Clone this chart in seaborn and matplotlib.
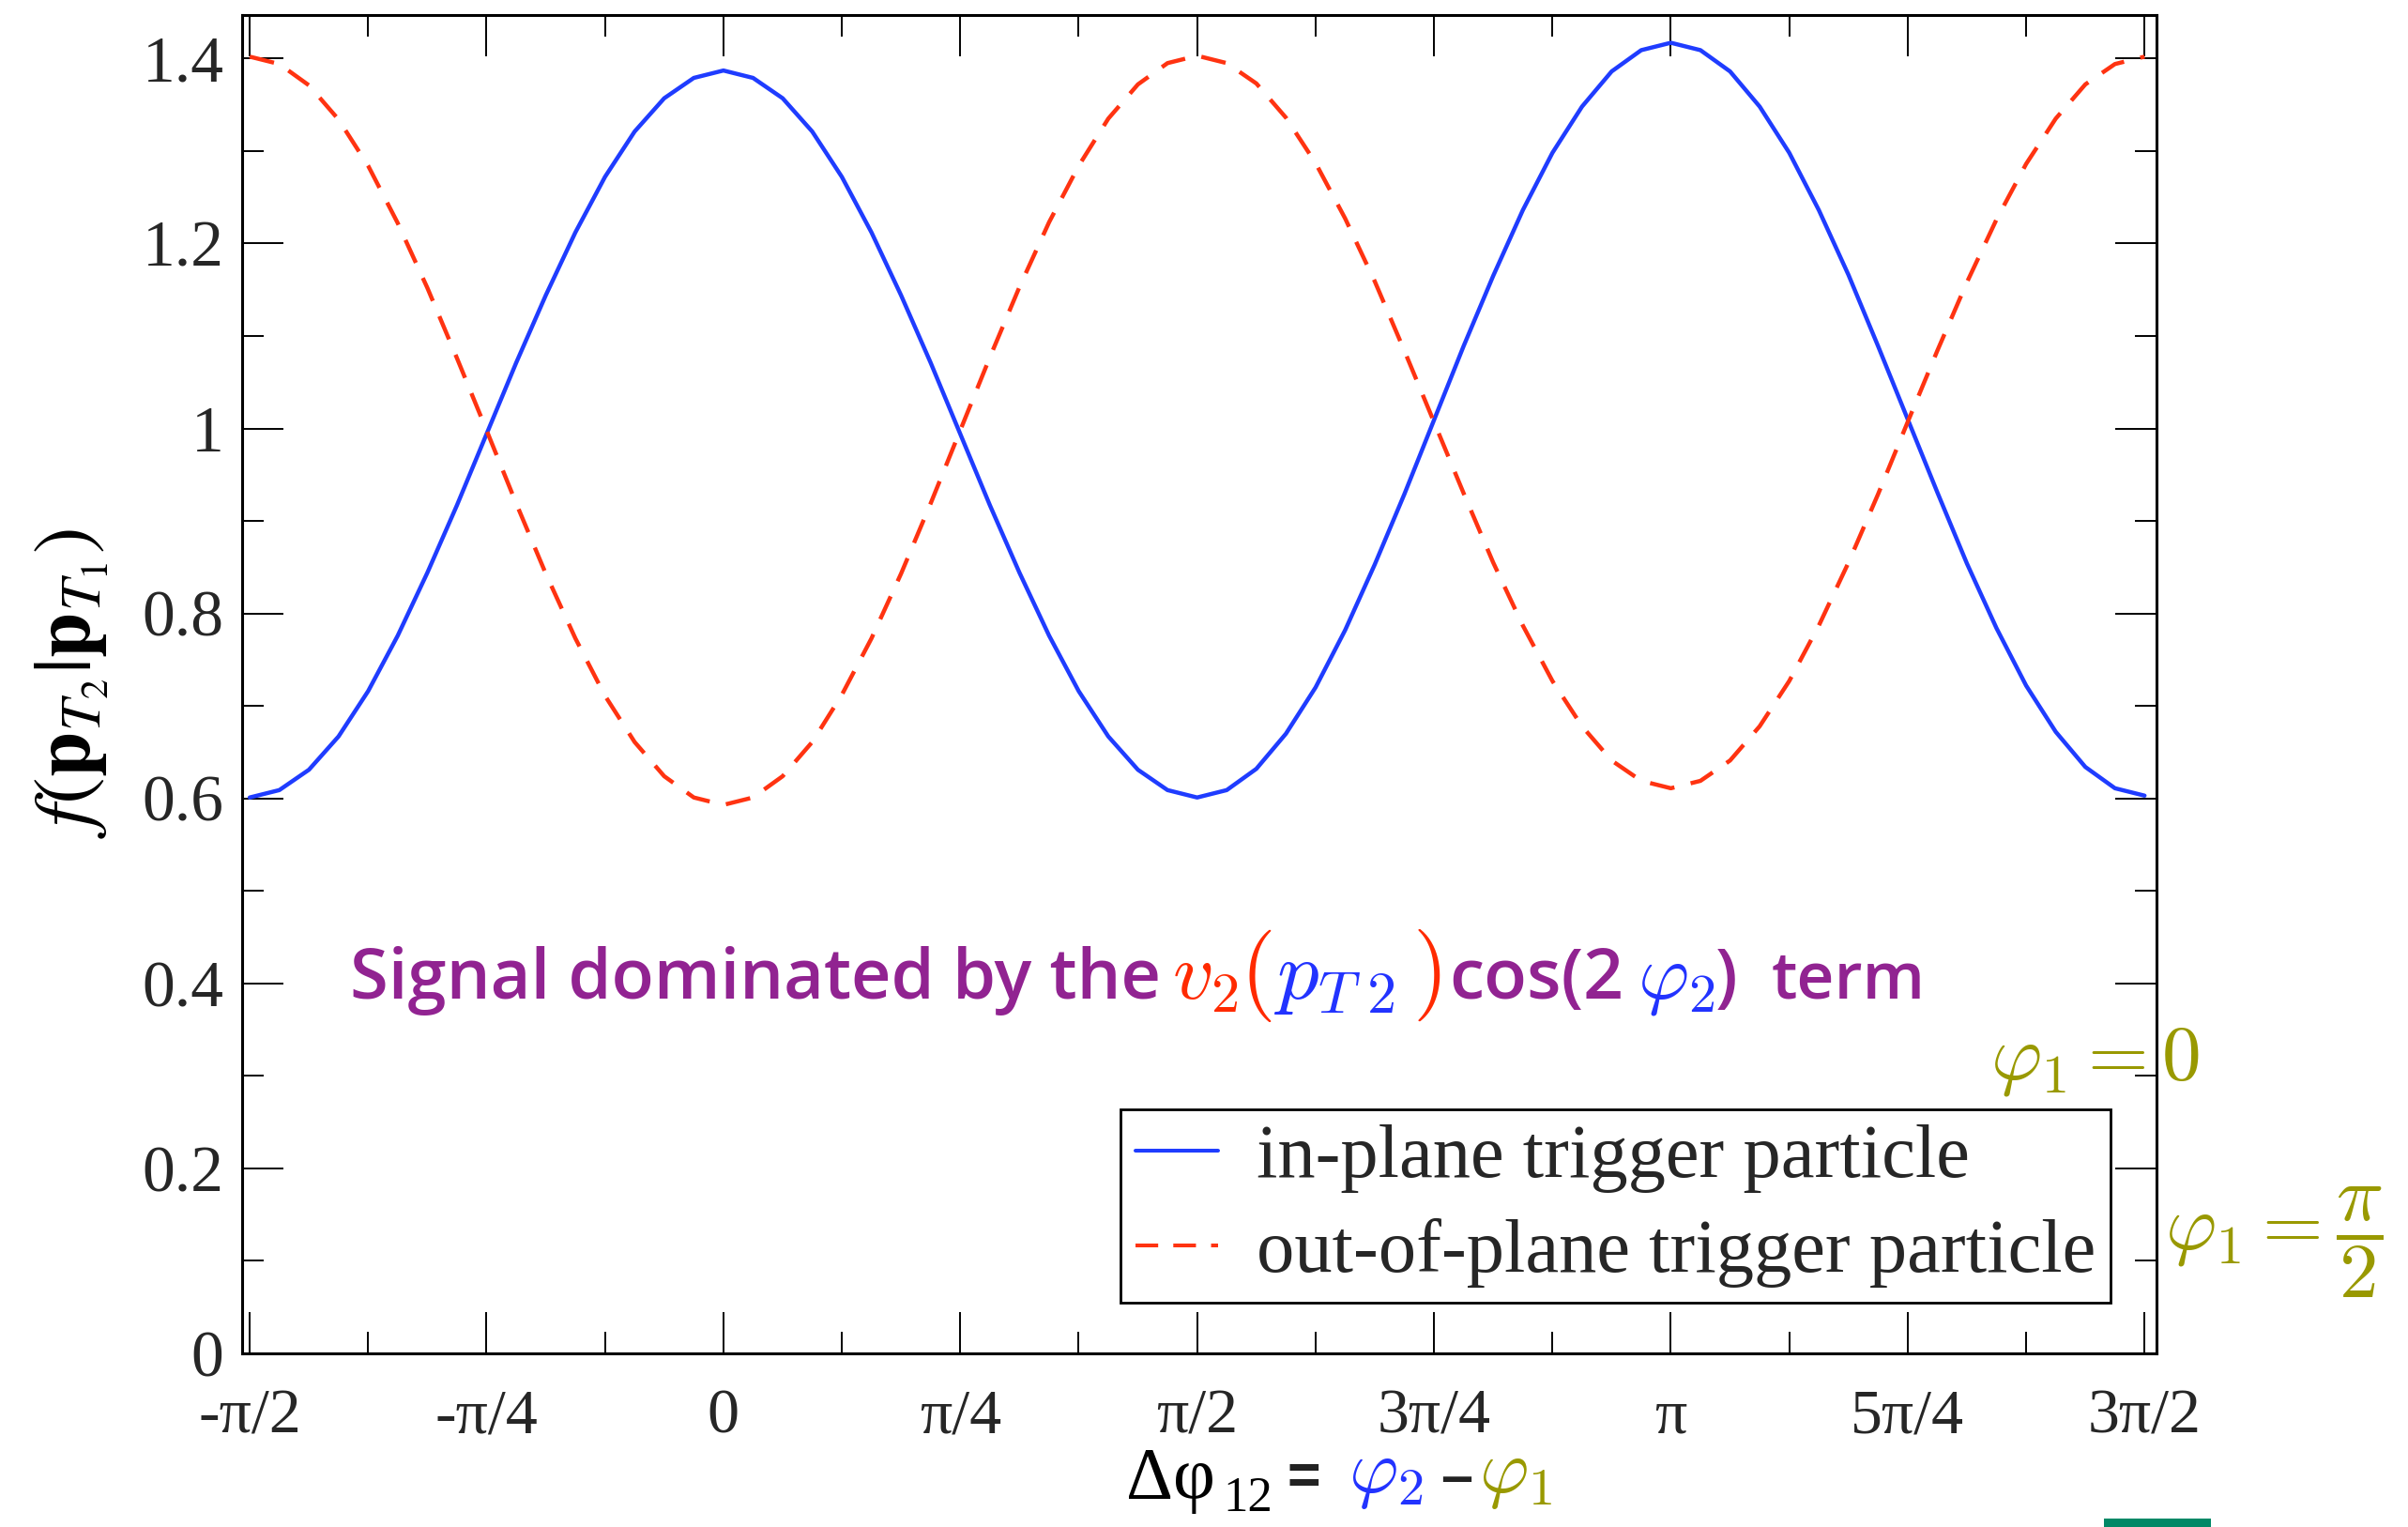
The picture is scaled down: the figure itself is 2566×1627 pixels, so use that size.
import numpy as np
import pandas as pd
import matplotlib
matplotlib.use("Agg")
import matplotlib.pyplot as plt
import seaborn as sns
from matplotlib.ticker import FixedLocator, MultipleLocator
from matplotlib.patches import Rectangle

# ---------------- data ----------------
dphi = np.linspace(-np.pi / 2, 3 * np.pi / 2, 65)
in_plane = [0.601, 0.609, 0.631, 0.667, 0.716, 0.776, 0.844, 0.917, 0.994, 1.071, 1.144, 1.212, 1.272, 1.321, 1.357, 1.379, 1.387,
            1.379, 1.357, 1.321, 1.272, 1.212, 1.144, 1.071, 0.994, 0.917, 0.844, 0.776, 0.716, 0.667, 0.631, 0.609, 0.601,
            0.609, 0.632, 0.670, 0.720, 0.782, 0.853, 0.929, 1.009, 1.089, 1.165, 1.236, 1.298, 1.348, 1.386, 1.409, 1.417,
            1.409, 1.386, 1.348, 1.298, 1.236, 1.166, 1.089, 1.010, 0.931, 0.854, 0.784, 0.722, 0.672, 0.634, 0.611, 0.603]
out_plane = [1.402, 1.394, 1.371, 1.334, 1.284, 1.222, 1.152, 1.076, 0.998, 0.919, 0.843, 0.773, 0.711, 0.661, 0.624, 0.601, 0.593,
             0.601, 0.624, 0.661, 0.712, 0.773, 0.843, 0.919, 0.998, 1.077, 1.153, 1.223, 1.284, 1.335, 1.372, 1.395, 1.403,
             1.395, 1.373, 1.336, 1.287, 1.227, 1.159, 1.084, 1.007, 0.930, 0.855, 0.787, 0.727, 0.678, 0.641, 0.619, 0.611,
             0.619, 0.641, 0.678, 0.727, 0.787, 0.855, 0.929, 1.007, 1.084, 1.158, 1.226, 1.286, 1.335, 1.372, 1.394, 1.402]
series_names = ["in-plane trigger particle", "out-of-plane trigger particle"]
x_tick_vals = [-np.pi / 2, -np.pi / 4, 0, np.pi / 4, np.pi / 2, 3 * np.pi / 4, np.pi, 5 * np.pi / 4, 3 * np.pi / 2]
x_tick_labels = ["-π/2", "-π/4", "0", "π/4", "π/2", "3π/4", "π", "5π/4", "3π/2"]
y_tick_vals = [0, 0.2, 0.4, 0.6, 0.8, 1.0, 1.2, 1.4]
y_tick_labels = ["0", "0.2", "0.4", "0.6", "0.8", "1", "1.2", "1.4"]

# ---------------- style ----------------
BLUE = "#1f3cff"
RED = "#ff3311"
PURPLE = "#912391"
OLIVE = "#999900"
TXT_BLUE = "#2233ff"
TXT_RED = "#ff2a00"

sns.set_style("ticks")
plt.rcParams["font.family"] = ["Liberation Serif", "DejaVu Serif"]
plt.rcParams["mathtext.fontset"] = "cm"

W, H = 2566, 1627
fig = plt.figure(figsize=(W / 100, H / 100), dpi=100)
ax = fig.add_axes([258 / W, 1 - 1442 / H, 2040 / W, 1426 / H])

df = pd.DataFrame({
    "dphi": np.concatenate([dphi, dphi]),
    "f": in_plane + out_plane,
    "trigger": [series_names[0]] * len(dphi) + [series_names[1]] * len(dphi),
})
sns.lineplot(data=df, x="dphi", y="f", hue="trigger", style="trigger",
             palette=[BLUE, RED], dashes=["", (6, 4)], linewidth=3.2,
             ax=ax, sort=False, legend=True)

ax.set_xlim(-1.596, 4.752)
ax.set_ylim(0, 1.447)
ax.xaxis.set_major_locator(FixedLocator(x_tick_vals))
ax.set_xticklabels(x_tick_labels)
ax.xaxis.set_minor_locator(MultipleLocator(np.pi / 8))
ax.yaxis.set_major_locator(FixedLocator(y_tick_vals))
ax.set_yticklabels(y_tick_labels)
ax.yaxis.set_minor_locator(MultipleLocator(0.1))
ax.tick_params(which="both", direction="in", top=True, right=True, color="black", width=1.4)
ax.tick_params(which="major", length=32)
ax.tick_params(which="minor", length=16.5)
ax.tick_params(axis="y", which="major", pad=14, labelsize=50)
ax.tick_params(axis="x", which="major", pad=27, labelsize=49)
for sp in ax.spines.values():
    sp.set_linewidth(2.2)
    sp.set_color("black")
ax.set_xlabel("")
ax.set_ylabel("")

handles, labels = ax.get_legend_handles_labels()
for h in handles:
    h.set_linewidth(2.9)
leg = ax.legend(handles, labels, loc="lower right", bbox_to_anchor=(0.976, 0.038),
                fontsize=58, frameon=True, fancybox=False, edgecolor="black",
                framealpha=1, handlelength=1.1, handletextpad=0.5, borderpad=0.2,
                labelspacing=0.33, borderaxespad=0)
leg.get_frame().set_linewidth(2.0)

# ---------------- texts ----------------
def ftext(x_px, y_px, s, **kw):
    return fig.text(x_px / W, 1 - y_px / H, s, **kw)

renderer = fig.canvas.get_renderer()

def fit_width(t, target_px):
    w = t.get_window_extent(renderer).width
    t.set_fontsize(t.get_fontsize() * target_px / w)
    return t.get_fontsize()

# y label
ftext(76, 728, r"$f(\mathbf{p}_{T_2}|\mathbf{p}_{T_1})$", rotation=90,
      ha="center", va="center", fontsize=62, math_fontfamily="stix", color="black")

# x label pieces
ftext(1200, 1596, "Δφ", fontsize=56, color="black", va="baseline")
ftext(1303, 1610, "12", fontsize=38, color="black", va="baseline")
ftext(1372, 1592, "=", fontsize=44, color="#222222", va="baseline",
      family=["Liberation Sans", "DejaVu Sans"], fontweight="bold")
ftext(1437, 1590, r"$\varphi_2$", fontsize=58, color=TXT_BLUE, va="baseline")
ftext(1535, 1592, "–", fontsize=44, color="#222222", va="baseline",
      family=["Liberation Sans", "DejaVu Sans"], fontweight="bold")
ftext(1576, 1590, r"$\varphi_1$", fontsize=58, color=OLIVE, va="baseline")

# annotation pieces
ann_font = ["Open Sans", "DejaVu Sans"]
BASE = 1064
t0 = ftext(373, BASE, "Signal dominated by the", fontsize=50, color=PURPLE,
           va="baseline", family=ann_font, fontweight="semibold")
fit_width(t0, 866)
ftext(1249, BASE, r"$v_2$", fontsize=62, color=TXT_RED, va="baseline")
ftext(1321, BASE, r"$($", fontsize=70, color=TXT_RED, va="baseline")
ftext(1357, BASE, r"$p_{T\;2}$", fontsize=64, color=TXT_BLUE, va="baseline")
ftext(1505, BASE, r"$)$", fontsize=70, color=TXT_RED, va="baseline")
t1 = ftext(1544, BASE, "cos(2", fontsize=50, color=PURPLE, va="baseline",
           family=ann_font, fontweight="semibold")
fit_width(t1, 186)
ftext(1745, BASE, r"$\varphi_2$", fontsize=60, color=TXT_BLUE, va="baseline")
t2 = ftext(1828, BASE, ")", fontsize=t1.get_fontsize(), color=PURPLE, va="baseline",
           family=ann_font, fontweight="semibold")
t3 = ftext(1888, BASE, "term", fontsize=50, color=PURPLE, va="baseline",
           family=ann_font, fontweight="semibold")
fit_width(t3, 164)

# right-hand labels
ftext(2121, 1149, r"$\varphi_1 = 0$", fontsize=60, color=OLIVE, va="baseline")
ftext(2307, 1324, r"$\varphi_1 = \dfrac{\pi}{2}$", fontsize=60, color=OLIVE, va="center")

# green bar at bottom right
fig.patches.append(Rectangle((2242 / W, 0), 114 / W, 9 / H, transform=fig.transFigure,
                             facecolor="#008866", edgecolor="none"))

fig.savefig("out.png", dpi=100)
